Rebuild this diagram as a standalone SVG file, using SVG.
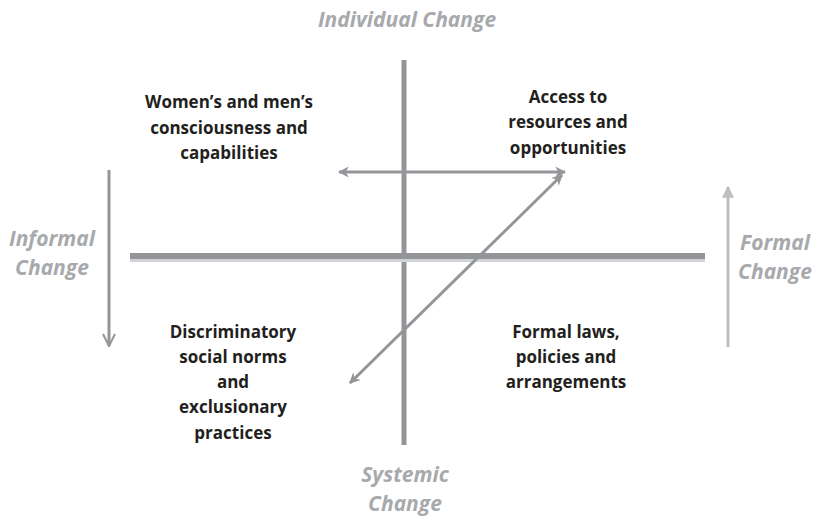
<svg xmlns="http://www.w3.org/2000/svg" width="826" height="518" viewBox="0 0 826 518">
<style>
.lbl{font-family:"Open Sans","Liberation Sans",sans-serif;font-weight:bold;font-style:italic;font-size:21px;fill:#a7a9ac;text-anchor:middle}
.txt{font-family:"Open Sans","Liberation Sans",sans-serif;font-weight:bold;font-size:17px;fill:#231f20;text-anchor:middle}
.ax{stroke:#939598;fill:none}
</style>
<defs>
<marker id="ah" viewBox="0 0 10 10" refX="9" refY="5" markerWidth="11" markerHeight="11" markerUnits="userSpaceOnUse" orient="auto-start-reverse"><path d="M0,0 L10,5 L0,10 L3,5 Z" fill="#939598"/></marker>
<marker id="open" viewBox="0 0 14 14" refX="13" refY="7" markerWidth="14" markerHeight="14" markerUnits="userSpaceOnUse" orient="auto"><path d="M1,1 L13,7 L1,13" fill="none" stroke="#939598" stroke-width="2"/></marker>
<marker id="ahl" viewBox="0 0 10 10" refX="9" refY="5" markerWidth="12" markerHeight="12" markerUnits="userSpaceOnUse" orient="auto"><path d="M0,0 L10,5 L0,10 Z" fill="#bcbec0"/></marker>
</defs>
<g id="axes">
<line class="ax" x1="404" y1="60" x2="404" y2="445" stroke-width="5"/>
<line x1="130" y1="260.5" x2="705" y2="260.5" stroke="#d1d3d4" stroke-width="3"/>
<line class="ax" x1="130" y1="256" x2="705" y2="256" stroke-width="6"/>
</g>
<g id="connectors">
<line class="ax" x1="109" y1="170" x2="109" y2="346" stroke-width="3" marker-end="url(#open)"/>
<line x1="728" y1="347" x2="728" y2="187" stroke="#bcbec0" stroke-width="3" marker-end="url(#ahl)"/>
<line class="ax" x1="339" y1="172" x2="565" y2="172" stroke-width="3" marker-start="url(#ah)" marker-end="url(#ah)"/>
<line class="ax" x1="562" y1="175" x2="350" y2="383" stroke-width="3" marker-start="url(#ah)" marker-end="url(#ah)"/>
</g>
<g id="individual"><text class="lbl" x="407" y="27">Individual Change</text></g>
<g id="systemic"><text class="lbl" x="405" y="482">Systemic</text><text class="lbl" x="405" y="511">Change</text></g>
<g id="informal"><text class="lbl" x="52" y="246">Informal</text><text class="lbl" x="52" y="275">Change</text></g>
<g id="formal"><text class="lbl" x="775" y="250">Formal</text><text class="lbl" x="775" y="279">Change</text></g>
<g id="consciousness"><text class="txt" x="229" y="108">Women’s and men’s</text><text class="txt" x="229" y="134">consciousness and</text><text class="txt" x="229" y="159">capabilities</text></g>
<g id="access"><text class="txt" x="568" y="103">Access to</text><text class="txt" x="568" y="128">resources and</text><text class="txt" x="568" y="154">opportunities</text></g>
<g id="norms"><text class="txt" x="233" y="338">Discriminatory</text><text class="txt" x="233" y="363">social norms</text><text class="txt" x="233" y="388">and</text><text class="txt" x="233" y="413">exclusionary</text><text class="txt" x="233" y="439">practices</text></g>
<g id="laws"><text class="txt" x="566" y="338">Formal laws,</text><text class="txt" x="566" y="363">policies and</text><text class="txt" x="566" y="388">arrangements</text></g>
</svg>
